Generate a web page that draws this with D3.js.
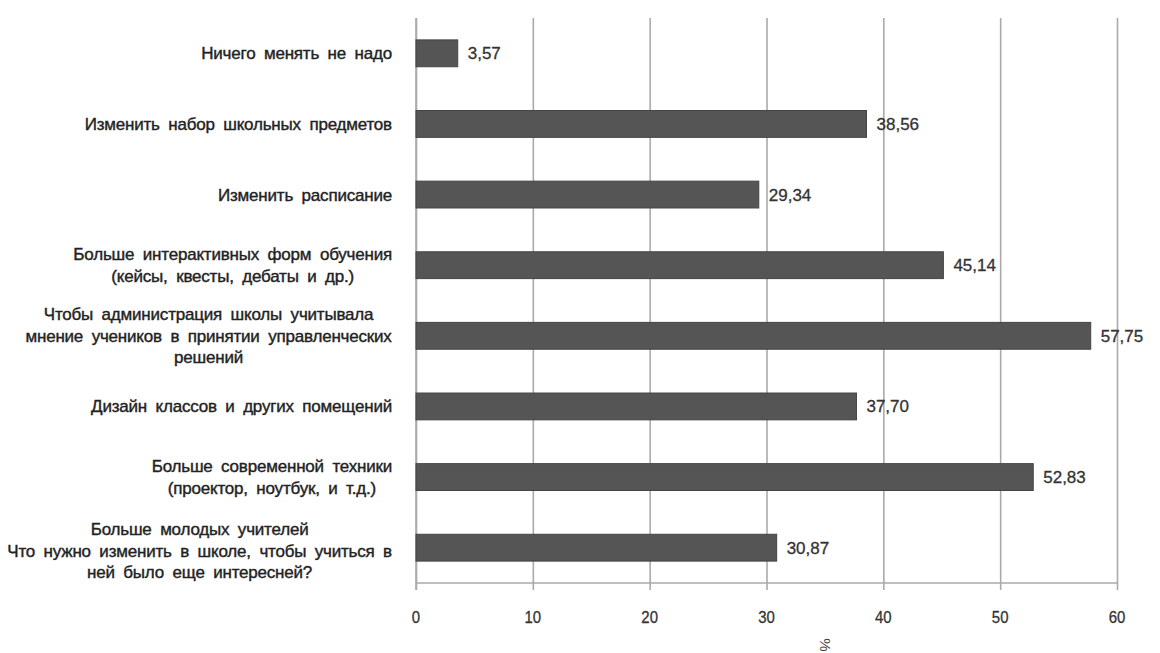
<!DOCTYPE html>
<html>
<head>
<meta charset="utf-8">
<script src="https://cdn.jsdelivr.net/npm/d3@7"></script>
<style>
  html, body { margin: 0; padding: 0; background: #fff; }
  svg { display: block; font-family: "Liberation Sans", Arial, sans-serif; }
</style>
</head>
<body>
<svg id="chart" width="1160" height="653"></svg>
<script>
// Survey answers (category labels, lines separated by "\n")
const categories = [
  "Ничего менять не надо",
  "Изменить набор школьных предметов",
  "Изменить расписание",
  "Больше интерактивных форм обучения\n(кейсы, квесты, дебаты и др.)",
  "Чтобы администрация школы учитывала\nмнение учеников в принятии управленческих\nрешений",
  "Дизайн классов и других помещений",
  "Больше современной техники\n(проектор, ноутбук, и т.д.)",
  "Больше молодых учителей\nЧто нужно изменить в школе, чтобы учиться в\nней было еще интересней?"
];
// Share of respondents, %
const values = [3.57, 38.56, 29.34, 45.14, 57.75, 37.70, 52.83, 30.87];
const xTicks = [0, 10, 20, 30, 40, 50, 60];
const xTitle = "%";

const svg = d3.select("#chart");
const margin = { left: 416, right: 43, top: 18, bottom: 70 };
const W = 1160, H = 653;
const plotW = W - margin.left - margin.right;
const plotH = H - margin.top - margin.bottom;

const x = d3.scaleLinear().domain([0, 60]).range([0, plotW]);
const y = d3.scaleBand().domain(categories).range([0, plotH]).paddingInner(0.62).paddingOuter(0.31);

const g = svg.append("g").attr("transform", `translate(${margin.left},${margin.top})`);

// vertical gridlines with tick marks below the axis
const xAxis = d3.axisBottom(x).tickValues(xTicks).tickSize(-plotH).tickPadding(0).tickFormat("");
const grid = g.append("g").attr("transform", `translate(0,${plotH})`).call(xAxis);
grid.select(".domain").remove();
grid.selectAll(".tick line")
  .attr("y1", 7)
  .attr("stroke", "#aaa").attr("stroke-width", 1.6);

// tick labels (slightly condensed)
g.append("g").selectAll("text").data(xTicks).join("text")
  .attr("x", d => x(d)).attr("y", plotH + 40)
  .attr("text-anchor", "middle")
  .attr("font-size", 17).attr("fill", "#333")
  .attr("stroke", "#333").attr("stroke-width", 0.3)
  .attr("transform", d => `translate(${x(d)},0) scale(0.88,1) translate(${-x(d)},0)`)
  .text(d => d);

// axis lines
g.append("line").attr("x1", 0).attr("x2", plotW).attr("y1", plotH).attr("y2", plotH)
  .attr("stroke", "#aaa").attr("stroke-width", 1.6);
g.append("line").attr("x1", 0).attr("x2", 0).attr("y1", 0).attr("y2", plotH + 7)
  .attr("stroke", "#aaa").attr("stroke-width", 1.6);

// bars
g.append("g").selectAll("rect").data(values).join("rect")
  .attr("x", 0)
  .attr("y", (d, i) => y(categories[i]))
  .attr("width", d => x(d))
  .attr("height", y.bandwidth())
  .attr("fill", "#555").attr("stroke", "#444").attr("stroke-width", 1);

// value labels
g.append("g").selectAll("text").data(values).join("text")
  .attr("x", d => x(d) + 10)
  .attr("y", (d, i) => y(categories[i]) + y.bandwidth() / 2)
  .attr("dy", "0.35em")
  .attr("font-size", 17).attr("fill", "#333")
  .attr("stroke", "#333").attr("stroke-width", 0.3)
  .text(d => d3.format(".2f")(d).replace(".", ","));

// category labels: centered block, right edge aligned
const labelRight = -24;
const lineH = 21.5;
categories.forEach((c, i) => {
  const lines = c.split("\n");
  const cy = y(c) + y.bandwidth() / 2 + (lines.length === 3 && i === categories.length - 1 ? 3 : 0);
  const t = g.append("text")
    .attr("font-size", 17).attr("fill", "#222")
    .attr("stroke", "#222").attr("stroke-width", 0.4)
    .attr("text-anchor", "middle")
    .style("letter-spacing", "-0.2px")
    .style("word-spacing", "4px");
  lines.forEach((ln, k) => {
    t.append("tspan").attr("x", 0)
      .attr("y", cy + (k - (lines.length - 1) / 2) * lineH)
      .attr("dy", "0.35em").text(ln);
  });
  const w = t.node().getBBox().width;
  t.selectAll("tspan").attr("x", labelRight - w / 2);
});

// axis title
svg.append("text")
  .attr("transform", "translate(825,645) rotate(90)")
  .attr("text-anchor", "middle").attr("dy", "0.35em")
  .attr("font-size", 15).attr("fill", "#444")
  .text(xTitle);
</script>
</body>
</html>
